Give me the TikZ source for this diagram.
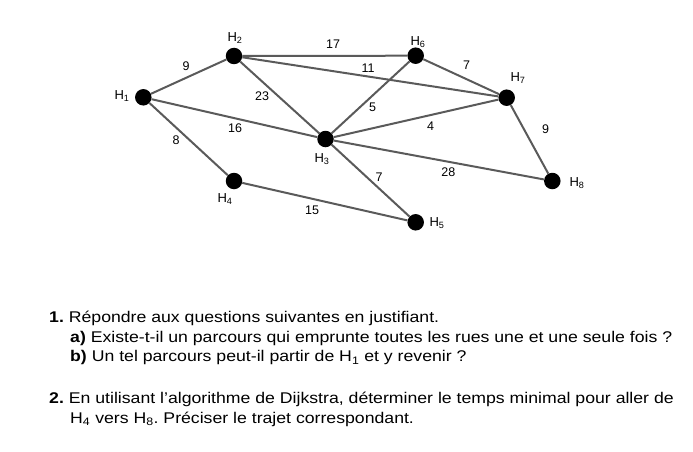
\documentclass[tikz,border=0pt]{standalone}
\usepackage{fontspec}
\setmainfont{Liberation Sans}
\newfontfamily\qfont[FakeStretch=1.14]{Liberation Sans}
\newcommand{\ssub}[1]{\textsubscript{#1}}
\frenchspacing
\definecolor{edgegray}{HTML}{5A5A5A}
\tikzset{
  dot/.style={circle,fill=black,draw=none,minimum size=16.5pt,inner sep=0pt},
  road/.style={draw=edgegray,line width=2pt},
  lbl/.style={font=\fontsize{12.5}{14}\selectfont,inner sep=0pt},
  hlbl/.style={font=\fontsize{13}{15}\selectfont,inner sep=0pt},
  txt/.style={font=\qfont\fontsize{15.5}{18}\selectfont,anchor=base west,inner sep=0pt}
}
\begin{document}
\begin{tikzpicture}[x=1pt,y=-1pt]
\useasboundingbox (0,0) rectangle (693,452);
% vertices
\node[dot] (h1) at (143.3,97.3) {};
\node[dot] (h2) at (234,56) {};
\node[dot] (h3) at (325.5,139) {};
\node[dot] (h4) at (234,181) {};
\node[dot] (h5) at (415.7,222.3) {};
\node[dot] (h6) at (415.7,55.7) {};
\node[dot] (h7) at (506.7,97.7) {};
\node[dot] (h8) at (552.3,181) {};
% edges
\draw[road] (h1) -- (h2);
\draw[road] (h1) -- (h3);
\draw[road] (h1) -- (h4);
\draw[road] (h2) -- (h6);
\draw[road] (h2) -- (h7);
\draw[road] (h2) -- (h3);
\draw[road] (h6) -- (h3);
\draw[road] (h6) -- (h7);
\draw[road] (h7) -- (h3);
\draw[road] (h7) -- (h8);
\draw[road] (h3) -- (h8);
\draw[road] (h3) -- (h5);
\draw[road] (h4) -- (h5);
% vertex names
\node[hlbl] (n1) at (122,96) {H\ssub{1}};
\node[hlbl] (n2) at (235,38) {H\ssub{2}};
\node[hlbl] (n3) at (322,159) {H\ssub{3}};
\node[hlbl] (n4) at (225,199) {H\ssub{4}};
\node[hlbl] (n5) at (437,223) {H\ssub{5}};
\node[hlbl] (n6) at (418,42) {H\ssub{6}};
\node[hlbl] (n7) at (518,78) {H\ssub{7}};
\node[hlbl] (n8) at (577,183) {H\ssub{8}};
% weights
\node[lbl] (w12) at (186,65.7) {9};
\node[lbl] (w26) at (333,44.3) {17};
\node[lbl] (w27) at (368,68) {11};
\node[lbl] (w67) at (466.7,65.7) {7};
\node[lbl] (w23) at (262,96) {23};
\node[lbl] (w36) at (372.7,107.3) {5};
\node[lbl] (w13) at (235,128) {16};
\node[lbl] (w37) at (430.7,126) {4};
\node[lbl] (w78) at (545.7,129.3) {9};
\node[lbl] (w14) at (176,140) {8};
\node[lbl] (w38) at (448.3,171.7) {28};
\node[lbl] (w35) at (379,176.7) {7};
\node[lbl] (w45) at (312,210) {15};
% questions
\node[txt] (q1) at (49,322.5) {\textbf{1.} Répondre aux questions suivantes en justifiant.};
\node[txt] (qa) at (70,342) {\textbf{a)} Existe-t-il un parcours qui emprunte toutes les rues une et une seule fois ?};
\node[txt] (qb) at (70,361.5) {\textbf{b)} Un tel parcours peut-il partir de H\ssub{1} et y revenir ?};
\node[txt] (q2) at (49,403.5) {\textbf{2.} En utilisant l’algorithme de Dijkstra, déterminer le temps minimal pour aller de};
\node[txt] (q2b) at (70,423) {H\ssub{4} vers H\ssub{8}. Préciser le trajet correspondant.};
\end{tikzpicture}
\end{document}
